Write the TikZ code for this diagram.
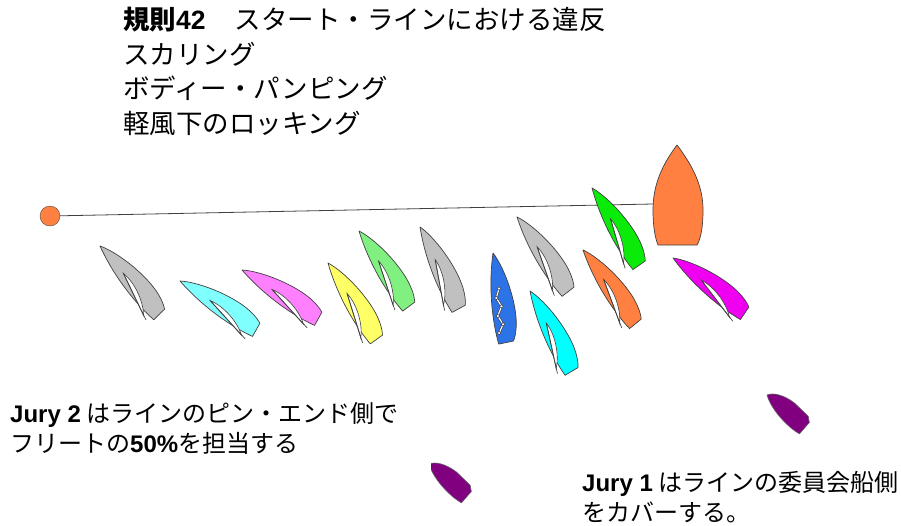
\documentclass[tikz,border=0pt]{standalone}
\usepackage{fontspec}
\setmainfont{Liberation Sans}
\newfontfamily\jp{Noto Sans CJK JP}
\newcommand\en[1]{{\rmfamily\bfseries #1}}

\definecolor{hullgrey}{RGB}{192,192,192}
\definecolor{paleaqua}{RGB}{128,255,255}
\definecolor{hullpink}{RGB}{255,128,255}
\definecolor{hullyellow}{RGB}{255,255,102}
\definecolor{palegreen}{RGB}{128,240,128}
\definecolor{hullblue}{RGB}{45,115,232}
\definecolor{brightaqua}{RGB}{0,255,255}
\definecolor{hullorange}{RGB}{255,128,64}
\definecolor{brightgreen}{RGB}{10,235,10}
\definecolor{brightmagenta}{RGB}{240,0,240}
\definecolor{jurypurple}{RGB}{128,0,128}

\tikzset{
  hull/.style={draw=black!75, line width=0.7pt, line join=round},
  sailcloth/.style={draw=black!75, fill=white, line width=0.6pt},
  mast/.style={black!75, line width=0.7pt},
  buoy/.style={circle, draw=black!70, fill=hullorange, minimum size=20pt, inner sep=0pt},
  startline/.style={black!75, line width=0.8pt},
  caption/.style={anchor=north west, inner sep=0pt, align=left},
  pics/dinghy/.style={code={
    \draw[hull, fill=#1] (0,0) .. controls (7,12) and (14,38) .. (14,62)
      .. controls (14,75) and (11,85) .. (8,90) -- (-7,91)
      .. controls (-10,70) and (-10,35) .. cycle;
  }},
  pics/jib/.style={code={
    \draw[sailcloth] (0,36) .. controls (3,52) and (-4,72) .. (-12,81) -- cycle;
    \draw[mast] (0,36) -- (-13,86);
  }},
  pics/wavyjib/.style={code={
    \draw[black!75, line width=2.4pt, line join=round]
      (1,36) -- (-3,45) -- (1,54) -- (-4,63) -- (0,72) -- (-5,80);
    \draw[white, line width=1.1pt, line join=round]
      (1,36) -- (-3,45) -- (1,54) -- (-4,63) -- (0,72) -- (-5,80);
    \foreach \p in {(1,36),(-3,45),(1,54),(-4,63),(0,72),(-5,80)}
      \draw[black!75, fill=white, line width=0.5pt] \p circle (1.8);
  }},
  pics/launch/.style={code={
    \draw[draw=black!60, fill=jurypurple, line width=0.6pt, line join=round]
      (0,0) .. controls (6,3) and (11,12) .. (12,26) -- (11,45) -- (7,50)
      -- (-8,50) .. controls (-11,36) and (-8,12) .. cycle;
  }},
}

\begin{document}
\begin{tikzpicture}[x=1pt,y=-1pt]
\useasboundingbox (0,0) rectangle (901,525);

% start line, pin end to committee boat
\node[buoy] (pin) at (50,216) {};
\coordinate (cbport) at (653,204);
\draw[startline] (pin) -- (cbport);
\draw[hull, fill=hullorange] (677,145) .. controls (662,165) and (653,185) .. (653,210)
  .. controls (653,230) and (656,240) .. (658,245) -- (697,245)
  .. controls (700,240) and (703,230) .. (703,210)
  .. controls (703,185) and (692,165) .. cycle;

% fleet on the line
\foreach \x/\y/\turn/\col in {100/246/40.5/hullgrey, 180/281/57/paleaqua,
    242/270/57/hullpink, 328/263/32/hullyellow, 359/231/33/palegreen,
    420/227/25/hullgrey, 517/217/34/hullgrey, 530/291/27/brightaqua,
    583/250/35/hullorange, 592/188/31/brightgreen, 673/258/52/brightmagenta} {
  \pic[rotate=\turn] at (\x,\y) {dinghy=\col};
  \pic[rotate=\turn] at (\x,\y) {jib};
}
\pic[rotate=8] at (493,253) {dinghy=hullblue};
\pic[rotate=8] at (493,253) {wavyjib};

% jury boats
\pic[rotate=49] at (767,395) {launch};
\begin{scope}
  \clip (431,440) rectangle (520,520);
  \pic[rotate=49] at (429,464) {launch};
\end{scope}

\node[caption, font=\jp\fontsize{26.5}{34.5}\selectfont] (rules) at (123,7)
  {{\bfseries 規則}\en{42}\hspace{1.1em}スタート・ラインにおける違反\\
   スカリング\\
   ボディー・パンピング\\
   軽風下のロッキング};
\node[caption, font=\jp\fontsize{24}{30.5}\selectfont] (jurytwo) at (10,402)
  {\en{Jury 2} はラインのピン・エンド側で\\
   フリートの\en{50\%}を担当する};
\node[caption, font=\jp\fontsize{24}{30.5}\selectfont] (juryone) at (582,471)
  {\en{Jury 1} はラインの委員会船側\\
   をカバーする。};
\end{tikzpicture}
\end{document}
